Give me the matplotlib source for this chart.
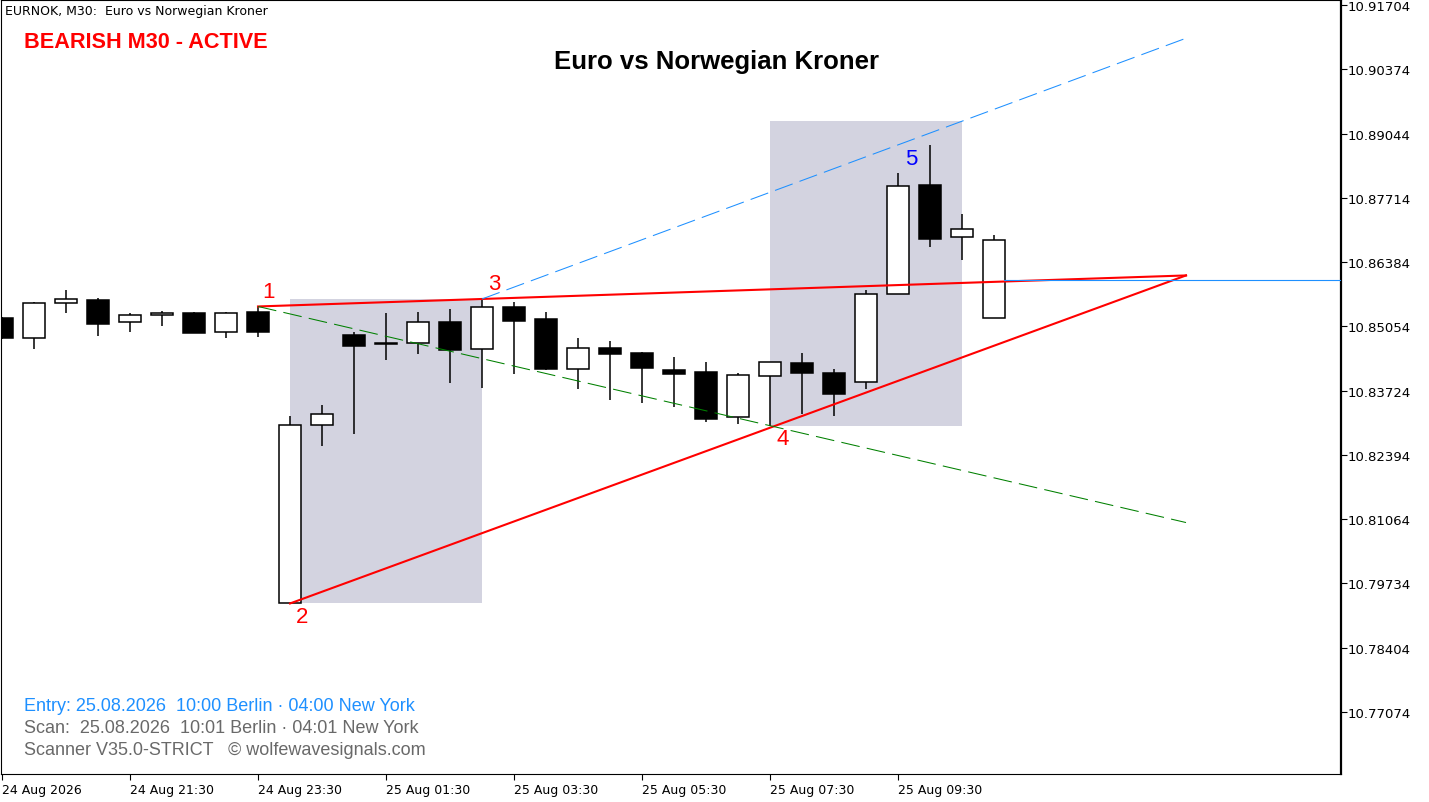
import numpy as np
import matplotlib.pyplot as plt
from matplotlib.patches import Rectangle

# candle data (M30 bars, 24 Aug 19:30 onward)
opens = [10.85227, 10.84813, 10.85531, 10.85599, 10.85138, 10.85283, 10.85336, 10.84931,
         10.85357, 10.79323, 10.83006, 10.84875, 10.84703, 10.84703, 10.85144, 10.84579,
         10.85454, 10.85206, 10.84178, 10.84606, 10.84503, 10.84151, 10.84109, 10.83172,
         10.84020, 10.84296, 10.84082, 10.83909, 10.85717, 10.87979, 10.86897, 10.85221]
highs = [10.85248, 10.85564, 10.85806, 10.85641, 10.85330, 10.85372, 10.85351, 10.85357,
         10.85465, 10.83199, 10.83426, 10.84931, 10.85330, 10.85351, 10.85413, 10.85620,
         10.85552, 10.85351, 10.84813, 10.84751, 10.84523, 10.84420, 10.84316, 10.84089,
         10.84316, 10.84503, 10.84171, 10.85800, 10.88227, 10.88813, 10.87379, 10.86944]
lows = [10.84792, 10.84585, 10.85336, 10.84860, 10.84943, 10.85067, 10.84923, 10.84819,
        10.84840, 10.79319, 10.82584, 10.82820, 10.84364, 10.84488, 10.83888, 10.83784,
        10.84074, 10.84157, 10.83764, 10.83536, 10.83474, 10.83391, 10.83081, 10.83039,
        10.82998, 10.83240, 10.83205, 10.83758, 10.85713, 10.86702, 10.86433, 10.85217]
closes = [10.84813, 10.85537, 10.85614, 10.85109, 10.85289, 10.85330, 10.84923, 10.85330,
          10.84943, 10.83013, 10.83236, 10.84654, 10.84678, 10.85144, 10.84571, 10.85448,
          10.85171, 10.84171, 10.84600, 10.84488, 10.84198, 10.84074, 10.83143, 10.84041,
          10.84310, 10.84095, 10.83660, 10.85723, 10.87952, 10.86868, 10.87069, 10.86841]

# wolfe wave points (bar index, price)
wave_bars = [8, 9, 15, 24, 29]
wave_prices = [10.85465, 10.79319, 10.85620, 10.82998, 10.88813]
apex_bar = 37
zone2_top = 10.89304

xtick_bars = [0, 4, 8, 12, 16, 20, 24, 28]
xtick_labels = ['24 Aug 2026', '24 Aug 21:30', '24 Aug 23:30', '25 Aug 01:30',
                '25 Aug 03:30', '25 Aug 05:30', '25 Aug 07:30', '25 Aug 09:30']
yticks = [10.91704 - 0.0133 * k for k in range(12)]

W, H = 1429, 803
fig = plt.figure(figsize=(W / 100, H / 100), dpi=100)
ax = fig.add_axes([1 / W, 28 / H, 1340 / W, 774 / H])
ax.set_xlim(-0.03125, 41.84375)
ax.set_ylim(10.75790, 10.91807)

# shaded zones
ax.add_patch(Rectangle((wave_bars[1], wave_prices[1]), wave_bars[2] - wave_bars[1],
                       wave_prices[2] - wave_prices[1], facecolor='#d3d3e0', edgecolor='none', zorder=1))
ax.add_patch(Rectangle((wave_bars[3], wave_prices[3]), 30 - wave_bars[3],
                       zone2_top - wave_prices[3], facecolor='#d3d3e0', edgecolor='none', zorder=1))

# candles
x = np.arange(len(opens))
o = np.array(opens); c = np.array(closes)
ax.vlines(x, lows, highs, color='black', lw=1.1, zorder=3)
bull = c >= o
body_h = np.maximum(np.abs(c - o), 0.00004)
ax.bar(x[bull], body_h[bull], bottom=np.minimum(o, c)[bull], width=0.68,
       facecolor='white', edgecolor='black', lw=1.1, zorder=4)
ax.bar(x[~bull], body_h[~bull], bottom=np.minimum(o, c)[~bull], width=0.68,
       facecolor='black', edgecolor='black', lw=1.1, zorder=4)

def line_at(b0, p0, b1, p1, b):
    return p0 + (p1 - p0) / (b1 - b0) * (b - b0)

b1, b2, b3, b4, b5 = wave_bars
p1, p2, p3, p4, p5 = wave_prices
apex = line_at(b1, p1, b3, p3, apex_bar)
# 1-3 and 2-4 lines to apex
ax.plot([b1, apex_bar], [p1, apex], color='red', lw=1.5, zorder=5)
ax.plot([b2, apex_bar], [p2, apex], color='red', lw=1.5, zorder=5)
# 1-4 target line
ax.plot([b1, apex_bar], [p1, line_at(b1, p1, b4, p4, apex_bar)], color='green', lw=0.75,
        ls=(0, (18, 7)), zorder=5)
# parallel to 2-4 through 3
ax.plot([b3, apex_bar], [p3, p3 + (p4 - p2) / (b4 - b2) * (apex_bar - b3)], color='#1e90ff',
        lw=0.75, ls=(0, (18, 7)), zorder=5)
# entry level
entry = line_at(b1, p1, b3, p3, 31) + 0.0004
ax.plot([31.3, 41.84375], [entry, entry], color='#1e90ff', lw=0.8, zorder=5)

offsets = [(10, 15), (12, -13), (12, 15), (13, -13), (-19, -14)]
for i, (bb, pp) in enumerate(zip(wave_bars, wave_prices)):
    ax.annotate(str(i + 1), (bb, pp), xytext=offsets[i], textcoords='offset pixels',
                ha='center', va='center', fontsize=16, family='Liberation Sans',
                color='blue' if i == 4 else 'red', zorder=6)

# axes styling
ax.yaxis.tick_right()
ax.set_yticks(yticks)
ax.set_yticklabels(['%.5f' % v for v in yticks])
ax.set_xticks(xtick_bars)
ax.set_xticklabels(xtick_labels, ha='left')
ax.tick_params(axis='both', length=4, width=0.8, colors='black')
ax.tick_params(axis='y', pad=1, labelsize=9.5)
ax.tick_params(axis='x', pad=2.5, labelsize=9)
for s in ['left', 'top', 'bottom']:
    ax.spines[s].set_linewidth(0.8)
ax.spines['right'].set_linewidth(1.6)

# texts
fig.text(5 / W, 1 - 12 / H, 'EURNOK, M30:  Euro vs Norwegian Kroner', fontsize=9,
         va='center', ha='left', color='black')
fig.text(24 / W, 1 - 42 / H, 'BEARISH M30 - ACTIVE', fontsize=15.6, fontweight='bold',
         family='Liberation Sans', color='red', va='center', ha='left')
fig.text(717 / W, 1 - 62 / H, 'Euro vs Norwegian Kroner', fontsize=18.5, fontweight='bold',
         family='Liberation Sans', color='black', va='center', ha='center')
fig.text(24 / W, 1 - 707 / H, 'Entry: 25.08.2026  10:00 Berlin \u00b7 04:00 New York',
         fontsize=13, family='Liberation Sans', color='#1e90ff', va='center', ha='left')
fig.text(24 / W, 1 - 729 / H, 'Scan:  25.08.2026  10:01 Berlin \u00b7 04:01 New York',
         fontsize=13, family='Liberation Sans', color='#696969', va='center', ha='left')
fig.text(24 / W, 1 - 751 / H, 'Scanner V35.0-STRICT   \u00a9 wolfewavesignals.com',
         fontsize=13, family='Liberation Sans', color='#696969', va='center', ha='left')

fig.savefig('out.png', dpi=100, facecolor='white')
